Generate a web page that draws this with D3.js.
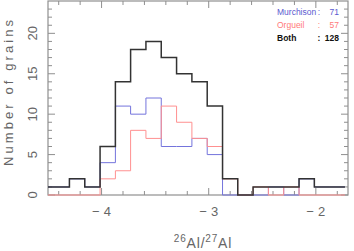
<!DOCTYPE html>
<html><head><meta charset="utf-8">
<script src="https://cdn.jsdelivr.net/npm/d3@7"></script>
<style>body{margin:0;background:#fff}svg{display:block}</style>
</head><body>
<svg id="c" width="354" height="251"></svg>
<script>
// data
const binEdges = [-4.586,-4.443,-4.300,-4.157,-4.014,-3.871,-3.729,-3.586,-3.443,-3.300,-3.157,-3.014,-2.871,-2.729,-2.586,-2.443,-2.300,-2.157,-2.014,-1.871,-1.729];
const both      = [1,1,2,1,6,14,18,19,17,15,14,11,2,0,1,1,1,2,1,1];
const murchison = [1,1,2,1,4,11,10,12,6,6,7,5,0,0,0,1,0,2,1,1];
const orgueil   = [0,0,0,0,2,3,8,7,11,9,7,6,2,0,1,0,1,0,0,0];
const xMajor = [-4,-3,-2];
const xLabels = ["\u22124","\u22123","\u22122"];
const yMajor = [0,5,10,15,20];
const legend = [
  {name:"Murchison", n:"71", color:"#5a5ad0", bold:false},
  {name:"Orgueil",   n:"57", color:"#ff7a7a", bold:false},
  {name:"Both",      n:"128", color:"#111", bold:true}
];

const svg = d3.select("#c");
const L=48,R=348,T=1,B=195;
const x = d3.scaleLinear().domain([-4.5,-1.7]).range([L,R]);
const y = d3.scaleLinear().domain([0,24]).range([B,T]);
const axisCol="#8f8f8f", textCol="#666";

svg.append("defs").append("clipPath").attr("id","pc")
  .append("rect").attr("x",L).attr("y",T-1).attr("width",R-L).attr("height",B-T+2);

// frame
svg.append("rect").attr("x",L).attr("y",T).attr("width",R-L).attr("height",B-T)
  .attr("fill","none").attr("stroke",axisCol).attr("stroke-width",1.2);

// ticks
const xMinor = d3.range(-4.4,-1.7,0.2).map(v=>+v.toFixed(2)).filter(v=>!xMajor.some(m=>Math.abs(m-v)<1e-6));
const g = svg.append("g").attr("stroke",axisCol).attr("stroke-width",1);
xMinor.forEach(v=>{
  g.append("line").attr("x1",x(v)).attr("x2",x(v)).attr("y1",B).attr("y2",B-4);
  g.append("line").attr("x1",x(v)).attr("x2",x(v)).attr("y1",T).attr("y2",T+4);
});
xMajor.forEach(v=>{
  g.append("line").attr("x1",x(v)).attr("x2",x(v)).attr("y1",B).attr("y2",B-7);
  g.append("line").attr("x1",x(v)).attr("x2",x(v)).attr("y1",T).attr("y2",T+7);
});
d3.range(0,24).forEach(v=>{
  const len = (v%5===0)?7:4;
  g.append("line").attr("y1",y(v)).attr("y2",y(v)).attr("x1",L).attr("x2",L+len);
  g.append("line").attr("y1",y(v)).attr("y2",y(v)).attr("x1",R).attr("x2",R-len);
});

// histograms
const line = d3.line().x(d=>x(d[0])).y(d=>y(d[1])).curve(d3.curveStepAfter);
function pts(arr){ const p = arr.map((c,i)=>[binEdges[i],c]); p.push([binEdges[binEdges.length-1],arr[arr.length-1]]); return p; }
const hg = svg.append("g").attr("clip-path","url(#pc)").attr("fill","none");
hg.append("path").attr("d",line(pts(murchison))).attr("stroke","#7474dc").attr("stroke-width",1);
hg.append("path").attr("d",line(pts(orgueil))).attr("stroke","#ff9090").attr("stroke-width",1);
hg.append("path").attr("d",line(pts(both))).attr("stroke","#333").attr("stroke-width",1.5);

// tick labels
const font="'Liberation Sans', Arial, sans-serif";
xMajor.forEach((v,i)=>{
  svg.append("text").attr("x",x(v)).attr("y",216).attr("text-anchor","middle")
    .attr("font-family",font).attr("font-size",13).attr("fill",textCol)
    .attr("textLength",19).text(xLabels[i]);
});
yMajor.forEach(v=>{
  svg.append("text").attr("transform",`translate(37,${y(v)}) rotate(-90)`)
    .attr("text-anchor","middle").attr("font-family",font).attr("font-size",13)
    .attr("fill",textCol).text(v);
});
// axis titles
svg.append("text").attr("transform","translate(12.5,93) rotate(-90)").attr("text-anchor","middle")
  .attr("font-family",font).attr("font-size",13).attr("fill",textCol)
  .attr("textLength",146).attr("lengthAdjust","spacing").text("Number of grains");
const xt = svg.append("text").attr("x",203).attr("y",248).attr("text-anchor","middle")
  .attr("font-family",font).attr("font-size",14).attr("fill",textCol).attr("letter-spacing",0.8);
xt.append("tspan").attr("font-size",10).attr("dy",-6).text("26");
xt.append("tspan").attr("dy",6).text("Al/");
xt.append("tspan").attr("font-size",10).attr("dy",-6).text("27");
xt.append("tspan").attr("dy",6).text("Al");

// legend
legend.forEach((d,i)=>{
  const yy = 15 + i*12.8;
  const t = svg.append("g").attr("font-family",font).attr("font-size",8.5).attr("fill",d.color)
    .attr("font-weight",d.bold?"bold":"normal");
  t.append("text").attr("x",277).attr("y",yy).text(d.name);
  t.append("text").attr("x",319).attr("y",yy).attr("text-anchor","middle").text(":");
  t.append("text").attr("x",339).attr("y",yy).attr("text-anchor","end").text(d.n);
});
</script>
</body></html>
